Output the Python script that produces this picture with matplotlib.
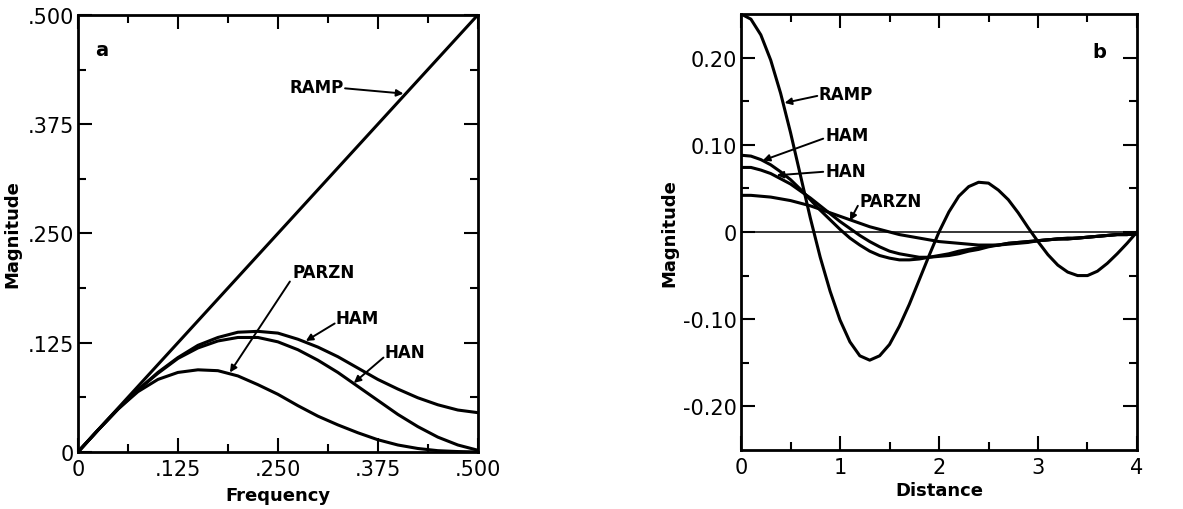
import matplotlib
matplotlib.use('Agg')
import matplotlib.pyplot as plt

# ---- panel a: frequency response ----
freq = [0, 0.025, 0.05, 0.075, 0.1, 0.125, 0.15, 0.175, 0.2, 0.225, 0.25,
        0.275, 0.3, 0.325, 0.35, 0.375, 0.4, 0.425, 0.45, 0.475, 0.5]
ramp_a = [0, 0.025, 0.05, 0.075, 0.1, 0.125, 0.15, 0.175, 0.2, 0.225, 0.25,
          0.275, 0.3, 0.325, 0.35, 0.375, 0.4, 0.425, 0.45, 0.475, 0.5]
ham_a = [0, 0.025, 0.049, 0.071, 0.091, 0.108, 0.122, 0.131, 0.137, 0.138, 0.136,
         0.129, 0.120, 0.109, 0.096, 0.083, 0.072, 0.062, 0.054, 0.048, 0.045]
han_a = [0, 0.025, 0.049, 0.071, 0.090, 0.107, 0.119, 0.127, 0.131, 0.131, 0.126,
         0.117, 0.105, 0.091, 0.075, 0.059, 0.043, 0.029, 0.017, 0.008, 0.002]
parzn_a = [0, 0.025, 0.049, 0.069, 0.083, 0.091, 0.094, 0.093, 0.087, 0.077, 0.066,
           0.053, 0.041, 0.031, 0.022, 0.014, 0.008, 0.004, 0.0015, 0.0005, 0]

# ---- panel b: spatial kernels ----
dist = [0.0, 0.1, 0.2, 0.3, 0.4, 0.5, 0.6, 0.7, 0.8, 0.9, 1.0,
        1.1, 1.2, 1.3, 1.4, 1.5, 1.6, 1.7, 1.8, 1.9, 2.0,
        2.1, 2.2, 2.3, 2.4, 2.5, 2.6, 2.7, 2.8, 2.9, 3.0,
        3.1, 3.2, 3.3, 3.4, 3.5, 3.6, 3.7, 3.8, 3.9, 4.0]
ramp_b = [0.250, 0.244, 0.226, 0.197, 0.159, 0.114, 0.065, 0.016, -0.029, -0.068, -0.101,
          -0.126, -0.142, -0.147, -0.142, -0.129, -0.108, -0.083, -0.055, -0.027, 0.000,
          0.023, 0.041, 0.052, 0.057, 0.056, 0.048, 0.037, 0.022, 0.005, -0.011,
          -0.026, -0.038, -0.046, -0.050, -0.050, -0.045, -0.036, -0.025, -0.013, 0.000]
ham_b = [0.088, 0.087, 0.083, 0.077, 0.069, 0.060, 0.049, 0.037, 0.025, 0.014, 0.003,
         -0.007, -0.015, -0.022, -0.027, -0.030, -0.032, -0.032, -0.031, -0.029, -0.027,
         -0.025, -0.022, -0.020, -0.018, -0.016, -0.015, -0.013, -0.012, -0.011, -0.010,
         -0.009, -0.008, -0.008, -0.007, -0.006, -0.005, -0.004, -0.003, -0.003, -0.002]
han_b = [0.074, 0.074, 0.071, 0.067, 0.061, 0.055, 0.047, 0.039, 0.030, 0.021, 0.012,
         0.004, -0.004, -0.011, -0.017, -0.022, -0.025, -0.027, -0.029, -0.029, -0.028,
         -0.027, -0.025, -0.022, -0.020, -0.017, -0.015, -0.013, -0.012, -0.011, -0.010,
         -0.009, -0.008, -0.007, -0.007, -0.006, -0.005, -0.004, -0.003, -0.003, -0.002]
parzn_b = [0.042, 0.042, 0.041, 0.040, 0.038, 0.036, 0.033, 0.030, 0.026, 0.022, 0.018,
           0.014, 0.010, 0.006, 0.003, 0.000, -0.003, -0.005, -0.007, -0.009, -0.011,
           -0.012, -0.013, -0.014, -0.015, -0.015, -0.015, -0.014, -0.013, -0.012, -0.010,
           -0.009, -0.008, -0.008, -0.007, -0.006, -0.005, -0.004, -0.003, -0.003, -0.002]

a_ticks = [0, 0.125, 0.25, 0.375, 0.5]
a_labels = ['0', '.125', '.250', '.375', '.500']
b_xticks = [0, 1, 2, 3, 4]
b_yticks = [-0.2, -0.1, 0, 0.1, 0.2]
b_ylabels = ['-0.20', '-0.10', '0', '0.10', '0.20']

plt.rcParams['font.family'] = ['DejaVu Sans']
fig = plt.figure(figsize=(11.83, 5.10), dpi=100)

lw = 2.2
txt = dict(fontsize=12, fontweight='bold', va='center', ha='left')
arw = dict(arrowstyle='-|>', lw=1.4, color='black', mutation_scale=10, shrinkA=0, shrinkB=0)


def style(ax):
    ax.tick_params(which='both', direction='in', top=True, right=True,
                   width=1.5, labelsize=15)
    ax.tick_params(axis='y', pad=3)
    ax.tick_params(axis='x', pad=5)
    ax.tick_params(which='major', length=10)
    ax.tick_params(which='minor', length=6)
    for s in ax.spines.values():
        s.set_linewidth(2)


# panel a
ax1 = fig.add_axes([0.0659, 0.1118, 0.338, 0.857])
for y in [ramp_a, ham_a, han_a, parzn_a]:
    ax1.plot(freq, y, color='black', lw=lw)
ax1.set_xlim(0, 0.5)
ax1.set_ylim(0, 0.5)
ax1.set_xticks(a_ticks)
ax1.set_xticklabels(a_labels)
ax1.set_yticks(a_ticks)
ax1.set_yticklabels(a_labels)
ax1.set_xticks([0.0625, 0.1875, 0.3125, 0.4375], minor=True)
ax1.set_yticks([0.0625, 0.1875, 0.3125, 0.4375], minor=True)
style(ax1)
ax1.set_xlabel('Frequency', fontsize=13, fontweight='bold', labelpad=5)
ax1.set_ylabel('Magnitude', fontsize=13, fontweight='bold', labelpad=4)

ax1.text(0.022, 0.46, 'a', fontsize=14, fontweight='bold', va='center')
ax1.text(0.265, 0.417, 'RAMP', **txt)
ax1.annotate('', xy=(0.407, 0.41), xytext=(0.334, 0.416), arrowprops=arw)
ax1.text(0.268, 0.206, 'PARZN', **txt)
ax1.annotate('', xy=(0.19, 0.091), xytext=(0.265, 0.195), arrowprops=arw)
ax1.text(0.322, 0.153, 'HAM', **txt)
ax1.annotate('', xy=(0.285, 0.127), xytext=(0.321, 0.147), arrowprops=arw)
ax1.text(0.383, 0.114, 'HAN', **txt)
ax1.annotate('', xy=(0.345, 0.079), xytext=(0.382, 0.108), arrowprops=arw)

# panel b
ax2 = fig.add_axes([0.6264, 0.1157, 0.3347, 0.855])
ax2.axhline(0, color='black', lw=1.1)
for y in [ramp_b, ham_b, han_b, parzn_b]:
    ax2.plot(dist, y, color='black', lw=lw)
ax2.set_xlim(0, 4)
ax2.set_ylim(-0.25, 0.25)
ax2.set_xticks(b_xticks)
ax2.set_xticklabels([str(v) for v in b_xticks])
ax2.set_yticks(b_yticks)
ax2.set_yticklabels(b_ylabels)
ax2.set_xticks([0.5, 1.5, 2.5, 3.5], minor=True)
ax2.set_yticks([-0.15, -0.05, 0.05, 0.15], minor=True)
style(ax2)
ax2.set_xlabel('Distance', fontsize=13, fontweight='bold', labelpad=3)
ax2.set_ylabel('Magnitude', fontsize=13, fontweight='bold', labelpad=3)

ax2.text(3.55, 0.207, 'b', fontsize=14, fontweight='bold', va='center')
ax2.text(0.78, 0.158, 'RAMP', **txt)
ax2.annotate('', xy=(0.44, 0.148), xytext=(0.77, 0.156), arrowprops=arw)
ax2.text(0.85, 0.111, 'HAM', **txt)
ax2.annotate('', xy=(0.22, 0.082), xytext=(0.83, 0.107), arrowprops=arw)
ax2.text(0.85, 0.070, 'HAN', **txt)
ax2.annotate('', xy=(0.36, 0.065), xytext=(0.83, 0.069), arrowprops=arw)
ax2.text(1.2, 0.036, 'PARZN', **txt)
ax2.annotate('', xy=(1.1, 0.013), xytext=(1.18, 0.030), arrowprops=arw)

fig.savefig('out.png', dpi=100)
